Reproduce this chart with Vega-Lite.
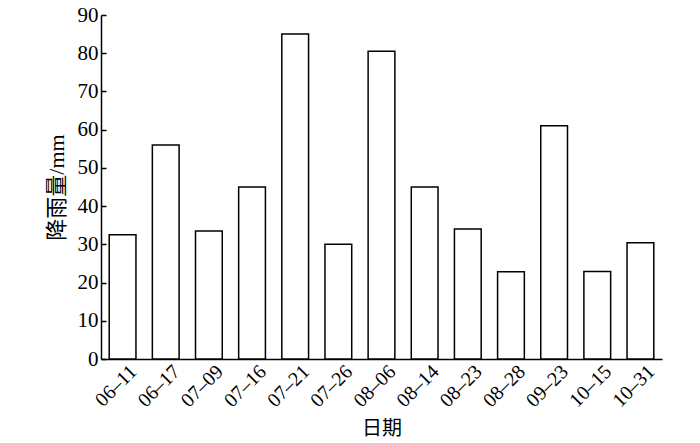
{
  "$schema": "https://vega.github.io/schema/vega-lite/v6.json",
  "autosize": {"type": "none"},
  "padding": {"left": 101, "top": 15, "right": 38, "bottom": 84},
  "width": 561,
  "height": 344,
  "background": "white",
  "data": {
    "values": [
      {"date": "06–11", "rain": 32.5},
      {"date": "06–17", "rain": 56},
      {"date": "07–09", "rain": 33.5},
      {"date": "07–16", "rain": 45},
      {"date": "07–21", "rain": 85},
      {"date": "07–26", "rain": 30},
      {"date": "08–06", "rain": 80.5},
      {"date": "08–14", "rain": 45},
      {"date": "08–23", "rain": 34},
      {"date": "08–28", "rain": 22.8},
      {"date": "09–23", "rain": 61},
      {"date": "10–15", "rain": 22.9},
      {"date": "10–31", "rain": 30.4}
    ]
  },
  "config": {
    "view": {"stroke": null},
    "font": "Liberation Serif, Noto Sans CJK SC",
    "axis": {
      "domainColor": "black",
      "domainWidth": 1.5,
      "tickColor": "black",
      "labelColor": "black",
      "titleColor": "black",
      "labelFont": "Liberation Serif",
      "titleFont": "Liberation Serif, Noto Sans CJK SC",
      "titleFontWeight": "normal",
      "grid": false
    }
  },
  "mark": {"type": "bar", "fill": "white", "stroke": "black", "strokeWidth": 1.5},
  "encoding": {
    "x": {
      "field": "date",
      "type": "nominal",
      "sort": null,
      "scale": {"paddingInner": 0.38, "paddingOuter": 0.19},
      "axis": {
        "title": "日期",
        "ticks": false,
        "labelAngle": -45,
        "labelAlign": "right",
        "labelBaseline": "top",
        "labelFontSize": 20,
        "labelOffset": 4,
        "labelPadding": 2,
        "titleFontSize": 20,
        "titlePadding": 8
      }
    },
    "y": {
      "field": "rain",
      "type": "quantitative",
      "scale": {"domain": [0, 90], "nice": false},
      "axis": {
        "title": "降雨量/mm",
        "values": [0, 10, 20, 30, 40, 50, 60, 70, 80, 90],
        "tickSize": -5,
        "tickWidth": 1.5,
        "labelFontSize": 21,
        "labelPadding": 8,
        "titleFontSize": 22,
        "titlePadding": 9
      }
    }
  }
}
